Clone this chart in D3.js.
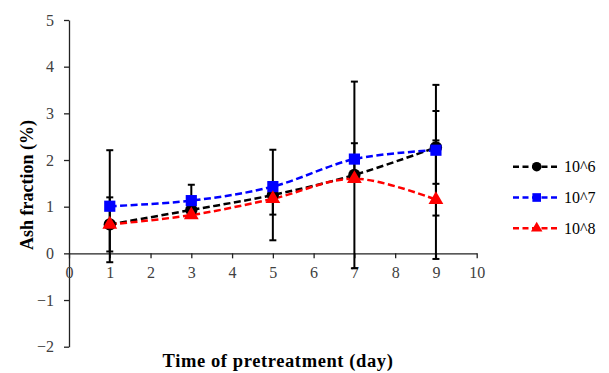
<!DOCTYPE html>
<html>
<head>
<meta charset="utf-8">
<style>
  body { margin: 0; background: #fff; }
</style>
<script src="https://d3js.org/d3.v7.min.js"></script>
</head>
<body>
<svg></svg>
<script>
// data
var days = [1, 3, 5, 7, 9];
var s6 = [0.62, 0.93, 1.25, 1.68, 2.27];
var s7 = [1.01, 1.13, 1.43, 2.02, 2.21];
var s8 = [0.62, 0.82, 1.17, 1.60, 1.15];
var e6 = [0.58, 0, 0.97, 2.0, 0.78];
var e7 = [1.2, 0.34, 0, 0.34, 1.4];
var e8 = [0, 0, 0.34, 0, 1.27];
var seriesNames = ["10^6", "10^7", "10^8"];
var xTicks = [0, 1, 2, 3, 4, 5, 6, 7, 8, 9, 10];
var yTicks = [-2, -1, 0, 1, 2, 3, 4, 5];

var serif = "'Liberation Serif'";

var svg = d3.select("svg")
    .attr("width", 609)
    .attr("height", 373);

var x = d3.scaleLinear().domain([0, 10]).range([69, 476.7]);
var y = d3.scaleLinear().domain([-2, 5]).range([346.7, 20]);

var series = [
  {name: seriesNames[0], vals: s6, err: e6, color: "#000000", shape: d3.symbolCircle, size: 120},
  {name: seriesNames[1], vals: s7, err: e7, color: "#0000ff", shape: d3.symbolSquare, size: 125},
  {name: seriesNames[2], vals: s8, err: e8, color: "#ff0000", shape: d3.symbolTriangle, size: 95}
];

// y axis
var yAxis = svg.append("g")
    .attr("transform", "translate(" + x(0) + ",0)")
    .call(d3.axisLeft(y).tickValues(yTicks).tickFormat(d3.format("d"))
      .tickSize(5).tickSizeOuter(0).tickPadding(10));
yAxis.select(".domain").attr("stroke", "#222").attr("stroke-width", 1.3);
yAxis.selectAll(".tick line").attr("stroke", "#222").attr("stroke-width", 1.3);
yAxis.selectAll(".tick text")
    .style("font-family", serif)
    .style("font-size", "16px")
    .attr("fill", "#404040");

// x axis at y = 0
var xAxis = svg.append("g")
    .attr("transform", "translate(0," + y(0) + ")")
    .call(d3.axisBottom(x).tickValues(xTicks).tickFormat(d3.format("d"))
      .tickSize(5).tickSizeOuter(0).tickPadding(8));
xAxis.select(".domain").attr("stroke", "#222").attr("stroke-width", 1.3);
xAxis.selectAll(".tick line").attr("stroke", "#222").attr("stroke-width", 1.3);
xAxis.selectAll(".tick text")
    .style("font-family", serif)
    .style("font-size", "16px")
    .attr("fill", "#404040");

// axis titles
svg.append("text")
    .attr("transform", "translate(33,185) rotate(-90)")
    .attr("text-anchor", "middle")
    .style("font-family", serif)
    .style("font-weight", "bold")
    .style("font-size", "18px")
    .text("Ash fraction (%)");

svg.append("text")
    .attr("x", 278)
    .attr("y", 367)
    .attr("text-anchor", "middle")
    .style("font-family", serif)
    .style("font-weight", "bold")
    .style("font-size", "18.5px")
    .style("letter-spacing", "0.6px")
    .text("Time of pretreatment (day)");

// error bars
var eb = svg.append("g");
series.forEach(function(s) {
  days.forEach(function(d, i) {
    var e = s.err[i];
    if (!e) return;
    var cx = x(d), y1 = y(s.vals[i] + e), y2 = y(s.vals[i] - e);
    eb.append("line").attr("x1", cx).attr("x2", cx).attr("y1", y1).attr("y2", y2)
      .attr("stroke", "#000").attr("stroke-width", 2);
    [y1, y2].forEach(function(yy) {
      eb.append("line").attr("x1", cx - 3.5).attr("x2", cx + 3.5).attr("y1", yy).attr("y2", yy)
        .attr("stroke", "#000").attr("stroke-width", 2);
    });
  });
});

// smoothed dashed lines
var line = d3.line()
    .x(function(d) { return x(d[0]); })
    .y(function(d) { return y(d[1]); })
    .curve(d3.curveCardinal.tension(0));

series.forEach(function(s) {
  svg.append("path")
    .datum(days.map(function(d, i) { return [d, s.vals[i]]; }))
    .attr("fill", "none")
    .attr("stroke", s.color)
    .attr("stroke-width", 2.5)
    .attr("stroke-dasharray", "7,3.5")
    .attr("d", line);
});

// markers
series.forEach(function(s) {
  svg.append("g").selectAll("path")
    .data(days.map(function(d, i) { return [d, s.vals[i]]; }))
    .enter().append("path")
      .attr("transform", function(d) { return "translate(" + x(d[0]) + "," + y(d[1]) + ")"; })
      .attr("d", d3.symbol().type(s.shape).size(s.size))
      .attr("fill", s.color);
});

// legend
var lg = svg.append("g");
series.forEach(function(s, i) {
  var ly = 166.7 + i * 30.8;
  lg.append("line")
    .attr("x1", 513).attr("x2", 560).attr("y1", ly).attr("y2", ly)
    .attr("stroke", s.color).attr("stroke-width", 2.5)
    .attr("stroke-dasharray", "6,3.5");
  lg.append("path")
    .attr("transform", "translate(536.7," + ly + ")")
    .attr("d", d3.symbol().type(s.shape).size(s.size * 0.6))
    .attr("fill", s.color);
  lg.append("text")
    .attr("x", 564).attr("y", ly + 5.5)
    .style("font-family", serif)
    .style("font-size", "16px")
    .attr("fill", "#000")
    .text(s.name);
});
</script>
</body>
</html>
